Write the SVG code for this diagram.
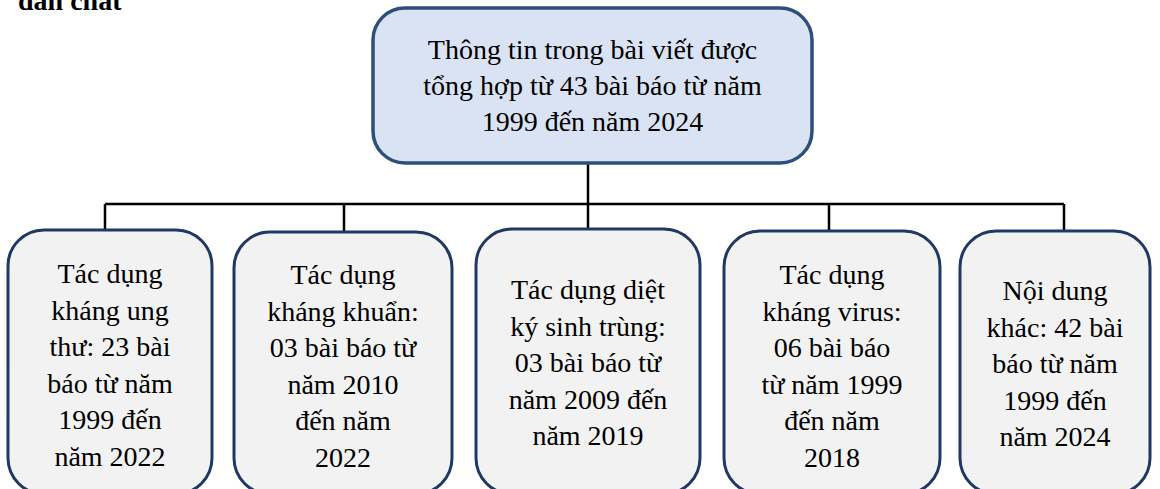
<svg xmlns="http://www.w3.org/2000/svg" width="1160" height="489" viewBox="0 0 1160 489">
<style>
text{font-family:"Liberation Serif","Times New Roman",serif;font-size:28px;fill:#000;text-anchor:middle}
.title{font-weight:bold;text-anchor:start}
.root{fill:#dae3f3;stroke:#2c4f7c;stroke-width:3.5}
.leaf{fill:#f2f2f2;stroke:#1f3864;stroke-width:3}
.conn{fill:none;stroke:#000;stroke-width:2.5}
</style>
<rect width="1160" height="489" fill="#fff"/>
<text class="title" x="18" y="10">dẫn chất</text>
<g id="connectors">
<path class="conn" d="M588 163 V230"/>
<path class="conn" d="M105 204 H1064"/>
<path class="conn" d="M105 204 V231 M344 204 V232 M829 204 V231 M1064 204 V231"/>
</g>
<g id="root">
<rect class="root" x="373" y="8" width="439" height="155" rx="32"/>
<text x="592.5" y="59">Thông tin trong bài viết được</text>
<text x="592.5" y="95">tổng hợp từ 43 bài báo từ năm</text>
<text x="592.5" y="131">1999 đến năm 2024</text>
</g>
<g id="n1">
<rect class="leaf" x="8" y="230" width="204" height="264" rx="36"/>
<text x="110" y="283">Tác dụng</text>
<text x="110" y="319.5">kháng ung</text>
<text x="110" y="356">thư: 23 bài</text>
<text x="110" y="392.5">báo từ năm</text>
<text x="110" y="429">1999 đến</text>
<text x="110" y="465.5">năm 2022</text>
</g>
<g id="n2">
<rect class="leaf" x="234" y="232" width="218" height="262" rx="36"/>
<text x="343" y="284">Tác dụng</text>
<text x="343" y="320.5">kháng khuẩn:</text>
<text x="343" y="357">03 bài báo từ</text>
<text x="343" y="393.5">năm 2010</text>
<text x="343" y="430">đến năm</text>
<text x="343" y="466.5">2022</text>
</g>
<g id="n3">
<rect class="leaf" x="476" y="229" width="224" height="265" rx="36"/>
<text x="588" y="299">Tác dụng diệt</text>
<text x="588" y="335.5">ký sinh trùng:</text>
<text x="588" y="372">03 bài báo từ</text>
<text x="588" y="408.5">năm 2009 đến</text>
<text x="588" y="445">năm 2019</text>
</g>
<g id="n4">
<rect class="leaf" x="724" y="231" width="216" height="263" rx="36"/>
<text x="832" y="284">Tác dụng</text>
<text x="832" y="320.5">kháng virus:</text>
<text x="832" y="357">06 bài báo</text>
<text x="832" y="393.5">từ năm 1999</text>
<text x="832" y="430">đến năm</text>
<text x="832" y="466.5">2018</text>
</g>
<g id="n5">
<rect class="leaf" x="960" y="231" width="190" height="263" rx="36"/>
<text x="1055" y="300">Nội dung</text>
<text x="1055" y="336.5">khác: 42 bài</text>
<text x="1055" y="373">báo từ năm</text>
<text x="1055" y="409.5">1999 đến</text>
<text x="1055" y="446">năm 2024</text>
</g>
</svg>
